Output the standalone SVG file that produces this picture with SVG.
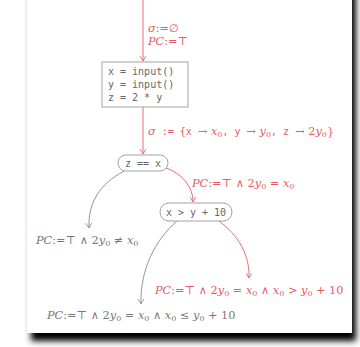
<svg xmlns="http://www.w3.org/2000/svg" width="360" height="347" viewBox="0 0 360 347">
<defs>
<filter id="sh" x="-10%" y="-10%" width="120%" height="120%"><feGaussianBlur stdDeviation="3"/></filter>
<marker id="ag" markerWidth="8" markerHeight="8" refX="5" refY="3" orient="auto" markerUnits="userSpaceOnUse"><path d="M0,0 L5,3 L0,6" fill="none" stroke="#888" stroke-width="0.8"/></marker>
<marker id="rr" markerWidth="8" markerHeight="8" refX="5" refY="3" orient="auto" markerUnits="userSpaceOnUse"><path d="M0,0 L5,3 L0,6" fill="none" stroke="#e85a64" stroke-width="0.8"/></marker>
</defs>
<style>
.red{fill:#e85a64}
.gray{fill:#777}
.m{font-family:"DejaVu Serif","Liberation Serif",serif;font-size:11.3px}
.i{font-style:italic}
.tt{font-family:"DejaVu Sans Mono","Liberation Mono",monospace;font-size:10px}
.code{font-family:"DejaVu Sans Mono","Liberation Mono",monospace;font-size:10px;fill:#666}
.node{fill:#fff;stroke:#999;stroke-width:0.9}
.er{fill:none;stroke:#e85a64;stroke-width:0.9}
.eg{fill:none;stroke:#888;stroke-width:0.9}
.sub{font-size:8px}
</style>
<rect width="360" height="347" fill="#fff"/>
<rect x="31" y="-10" width="325" height="351" fill="#000" filter="url(#sh)"/>
<rect x="27" y="-10" width="325" height="343" fill="#fff"/>
<g id="connectors">
<path class="er" d="M143,0 L143,61" marker-end="url(#rr)"/>
<path class="er" d="M143,107 L143,154" marker-end="url(#rr)"/>
<path class="er" d="M166,168 C181,173 193,186 193,202" marker-end="url(#rr)"/>
<path class="eg" d="M124,171 C100,184 88,202 89,228" marker-end="url(#ag)"/>
<path class="er" d="M219,221 C238,235 250,255 249,278" marker-end="url(#rr)"/>
<path class="eg" d="M177,221 C155,240 140,270 141,304" marker-end="url(#ag)"/>
</g>
<g id="init-label" class="m red">
<text x="148" y="32"><tspan class="i">σ</tspan>:=∅</text>
<text x="148" y="45"><tspan class="i">PC</tspan>:=⊤</text>
</g>
<g id="code-box">
<rect class="node" x="102" y="62" width="86" height="45"/>
<text class="code" x="108" y="75">x = input()</text>
<text class="code" x="108" y="88">y = input()</text>
<text class="code" x="108" y="101">z = 2 * y</text>
</g>
<g id="sigma-label" class="m red">
<text x="148" y="135"><tspan class="i">σ</tspan><tspan class="tt"> := {x </tspan>→ <tspan class="i">x</tspan><tspan class="sub" dy="2">0</tspan><tspan class="tt" dy="-2">, y </tspan>→ <tspan class="i">y</tspan><tspan class="sub" dy="2">0</tspan><tspan class="tt" dy="-2">, z </tspan>→ 2<tspan class="i">y</tspan><tspan class="sub" dy="2">0</tspan><tspan dy="-2">}</tspan></text>
</g>
<g id="node-zx">
<rect class="node" x="118" y="155" width="50" height="16" rx="8"/>
<text class="code" x="143" y="166.5" text-anchor="middle">z == x</text>
</g>
<g id="label-eq" class="m red">
<text x="192" y="187"><tspan class="i">PC</tspan>:=⊤ ∧ 2<tspan class="i">y</tspan><tspan class="sub" dy="2">0</tspan><tspan dy="-2"> = </tspan><tspan class="i">x</tspan><tspan class="sub" dy="2">0</tspan></text>
</g>
<g id="label-neq" class="m gray">
<text x="36" y="244"><tspan class="i">PC</tspan>:=⊤ ∧ 2<tspan class="i">y</tspan><tspan class="sub" dy="2">0</tspan><tspan dy="-2"> ≠ </tspan><tspan class="i">x</tspan><tspan class="sub" dy="2">0</tspan></text>
</g>
<g id="node-xy">
<rect class="node" x="160" y="203" width="72" height="18" rx="9"/>
<text class="code" x="196" y="215.5" text-anchor="middle">x &gt; y + 10</text>
</g>
<g id="label-gt" class="m red">
<text x="155" y="294"><tspan class="i">PC</tspan>:=⊤ ∧ 2<tspan class="i">y</tspan><tspan class="sub" dy="2">0</tspan><tspan dy="-2"> = </tspan><tspan class="i">x</tspan><tspan class="sub" dy="2">0</tspan><tspan dy="-2"> ∧ </tspan><tspan class="i">x</tspan><tspan class="sub" dy="2">0</tspan><tspan dy="-2"> &gt; </tspan><tspan class="i">y</tspan><tspan class="sub" dy="2">0</tspan><tspan dy="-2"> + 10</tspan></text>
</g>
<g id="label-le" class="m gray">
<text x="47" y="319"><tspan class="i">PC</tspan>:=⊤ ∧ 2<tspan class="i">y</tspan><tspan class="sub" dy="2">0</tspan><tspan dy="-2"> = </tspan><tspan class="i">x</tspan><tspan class="sub" dy="2">0</tspan><tspan dy="-2"> ∧ </tspan><tspan class="i">x</tspan><tspan class="sub" dy="2">0</tspan><tspan dy="-2"> ≤ </tspan><tspan class="i">y</tspan><tspan class="sub" dy="2">0</tspan><tspan dy="-2"> + 10</tspan></text>
</g>
</svg>
